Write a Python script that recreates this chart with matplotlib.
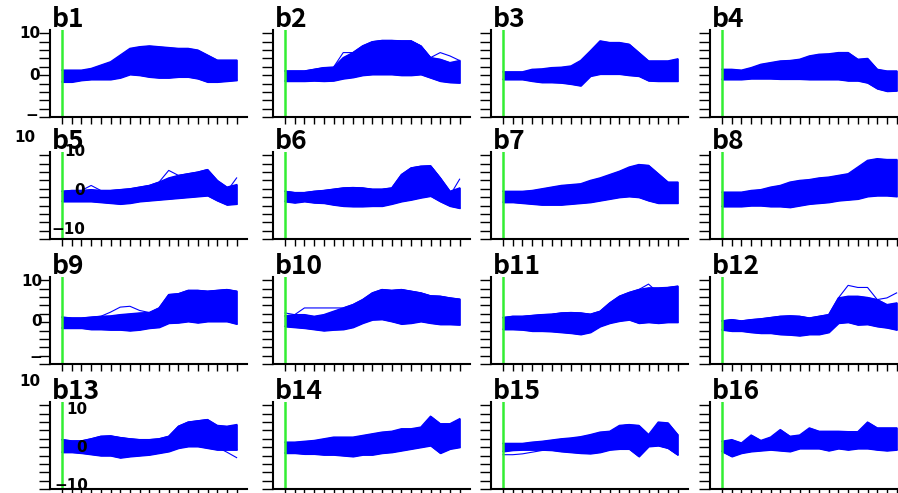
import numpy as np
import matplotlib.pyplot as plt

# taille de la figure en pixels
W, H = 898, 493
steps = np.arange(19)

titres = ['b%d' % i for i in range(1, 17)]

# enveloppes haute / basse des courbes de chaque panneau
haut_b1 = [1.2, 1.2, 1.2, 1.6, 2.4, 3.2, 4.8, 6.4, 6.8, 7.0, 6.8, 6.6, 6.4, 6.4, 6.0, 4.8, 3.6, 3.6, 3.6]
bas_b1 = [-1.6, -1.6, -1.2, -1.0, -1.0, -1.0, -0.6, 0.2, 0.0, -0.4, -0.6, -0.6, -0.4, -0.4, -0.8, -1.6, -1.6, -1.4, -1.2]
haut_b2 = [1.0, 1.0, 1.0, 1.4, 1.8, 1.9, 4.2, 5.4, 7.0, 8.0, 8.3, 8.3, 8.2, 8.2, 7.0, 4.2, 3.8, 3.0, 3.5]
bas_b2 = [-1.4, -1.4, -1.4, -1.3, -1.4, -1.3, -0.8, -0.5, 0.0, 0.2, 0.2, 0.2, 0.0, 0.0, 0.2, -0.6, -1.4, -1.7, -1.8]
haut_b3 = [0.8, 0.8, 0.8, 1.4, 1.5, 1.8, 1.9, 2.2, 3.5, 5.8, 8.2, 7.8, 7.8, 7.4, 5.4, 3.4, 3.4, 3.4, 3.9]
bas_b3 = [-1.0, -1.0, -1.0, -1.4, -1.7, -1.7, -1.8, -2.1, -2.5, -0.2, 0.3, 0.3, 0.3, 0.0, -0.2, -1.3, -1.4, -1.4, -1.4]
haut_b4 = [1.4, 1.4, 1.2, 1.8, 2.6, 3.0, 3.4, 3.5, 3.8, 4.6, 5.0, 5.1, 5.4, 5.4, 3.8, 4.0, 1.4, 1.0, 1.0]
bas_b4 = [-1.0, -1.0, -1.0, -0.8, -0.8, -0.8, -0.9, -0.9, -0.9, -1.0, -1.0, -1.0, -1.0, -1.3, -1.3, -1.8, -3.2, -3.8, -3.7]
haut_b5 = [1.4, 1.6, 1.6, 1.8, 1.6, 1.6, 1.8, 2.0, 2.4, 2.8, 3.6, 4.6, 5.2, 5.6, 6.0, 6.6, 4.0, 2.4, 3.0]
bas_b5 = [-1.0, -1.0, -1.0, -1.0, -1.2, -1.4, -1.6, -1.4, -1.0, -0.8, -0.6, -0.4, -0.2, 0.0, 0.2, 0.4, -0.8, -1.8, -1.6]
haut_b6 = [1.4, 1.1, 1.1, 1.4, 1.6, 1.9, 2.2, 2.3, 2.2, 1.9, 1.9, 2.2, 5.4, 7.0, 7.4, 7.5, 4.6, 1.4, 2.2]
bas_b6 = [-1.0, -1.3, -1.0, -1.3, -1.4, -1.8, -2.1, -2.2, -2.2, -2.1, -2.1, -1.6, -1.0, -0.6, -0.1, 0.3, -1.0, -2.1, -2.6]
haut_b7 = [1.4, 1.4, 1.4, 1.6, 2.0, 2.4, 2.8, 3.0, 3.2, 4.0, 4.6, 5.4, 6.2, 7.2, 7.8, 7.6, 5.6, 3.6, 3.6]
bas_b7 = [-1.2, -1.2, -1.4, -1.6, -1.8, -1.8, -1.8, -1.6, -1.4, -1.2, -0.8, -0.4, 0.0, 0.2, 0.0, -0.8, -1.4, -1.4, -1.4]
haut_b8 = [1.2, 1.2, 1.2, 1.6, 1.8, 2.4, 2.8, 3.6, 4.0, 4.2, 4.6, 4.8, 5.2, 5.6, 7.2, 8.8, 9.2, 9.0, 9.0]
bas_b8 = [-2.2, -2.2, -2.2, -2.0, -2.0, -2.2, -2.2, -2.4, -2.0, -1.6, -1.4, -1.2, -0.8, -0.6, -0.4, 0.2, 0.4, 0.4, 0.2]
haut_b9 = [1.2, 1.0, 1.0, 1.2, 1.4, 1.5, 1.8, 2.0, 2.2, 2.3, 3.4, 6.6, 6.8, 7.6, 7.6, 7.4, 7.6, 7.8, 7.4]
bas_b9 = [-1.4, -1.4, -1.4, -1.7, -1.7, -1.8, -1.8, -2.0, -1.8, -1.4, -1.2, -0.2, -0.1, 0.2, -0.1, 0.2, 0.2, 0.2, -0.4]
haut_b10 = [1.5, 1.8, 1.8, 1.4, 1.8, 2.6, 3.4, 4.2, 5.4, 7.0, 7.8, 7.6, 7.8, 7.4, 7.0, 6.3, 6.2, 5.8, 5.5]
bas_b10 = [-1.0, -1.2, -1.4, -1.7, -2.0, -1.8, -1.7, -1.2, -0.2, 0.6, 0.7, 0.2, -0.4, -0.2, 0.2, -0.2, -0.5, -0.5, -0.6]
haut_b11 = [1.1, 1.4, 1.4, 1.6, 1.8, 1.9, 2.2, 2.3, 2.2, 1.9, 2.6, 4.6, 6.2, 7.1, 7.8, 8.2, 8.2, 8.3, 8.6]
bas_b11 = [-1.7, -1.7, -1.8, -2.1, -2.1, -2.2, -2.4, -2.6, -2.9, -2.4, -1.0, -0.2, 0.3, 0.6, -0.2, 0.0, -0.2, 0.0, 0.0]
haut_b12 = [0.3, 0.6, 0.3, 0.6, 0.8, 1.1, 1.4, 1.5, 1.4, 1.0, 1.4, 1.8, 5.8, 6.2, 6.2, 5.9, 5.4, 4.2, 4.6]
bas_b12 = [-1.8, -2.1, -2.1, -2.4, -2.6, -2.6, -2.9, -3.0, -3.2, -2.9, -2.9, -2.4, -0.2, 0.0, -0.6, -0.5, -1.0, -1.3, -1.8]
haut_b13 = [1.8, 1.5, 1.5, 2.0, 2.6, 2.7, 2.3, 2.0, 1.8, 1.8, 2.0, 2.6, 5.0, 6.0, 6.3, 6.6, 5.2, 5.0, 5.4]
bas_b13 = [-1.2, -1.2, -1.4, -1.7, -2.0, -2.0, -2.5, -2.2, -2.0, -1.8, -1.4, -1.0, -0.2, 0.2, 0.2, -0.2, -0.6, -0.6, -0.6]
haut_b14 = [1.2, 1.2, 1.4, 1.6, 2.0, 2.4, 2.4, 2.4, 2.8, 3.2, 3.6, 3.8, 4.4, 4.4, 4.8, 7.4, 5.6, 5.6, 6.8]
bas_b14 = [-1.4, -1.4, -1.6, -1.6, -1.8, -1.8, -2.0, -2.2, -1.8, -1.8, -1.4, -1.2, -0.8, -0.4, 0.0, 0.4, -1.4, -0.4, 0.0]
haut_b15 = [0.9, 0.9, 0.9, 1.2, 1.4, 1.7, 2.0, 2.2, 2.5, 3.0, 3.6, 3.8, 5.2, 5.4, 5.2, 3.0, 6.0, 5.8, 3.0]
bas_b15 = [-1.0, -0.7, -0.6, -0.6, -0.6, -0.7, -1.0, -1.2, -1.4, -1.5, -1.2, -0.6, -0.4, -0.4, -2.2, 0.2, 0.4, -0.2, -1.8]
haut_b16 = [1.4, 1.8, 1.0, 2.9, 1.6, 2.4, 4.2, 2.6, 2.9, 4.6, 3.8, 3.8, 3.8, 3.7, 3.7, 6.0, 4.6, 4.6, 4.6]
bas_b16 = [-1.0, -2.2, -1.4, -1.0, -0.8, -0.6, -0.8, -1.0, -0.3, -0.3, -0.3, -0.8, -0.3, -0.6, -0.3, -0.3, -0.6, -0.8, -0.6]

# quelques courbes isolees qui sortent du faisceau
isole_b2 = [1.0, 1.0, 1.0, 1.4, 1.8, 1.9, 5.4, 5.4, 7.0, 8.0, 8.3, 8.3, 8.2, 8.2, 7.0, 4.2, 5.4, 4.6, 3.5]
isole_b5 = [1.4, 1.6, 1.6, 2.8, 1.6, 1.6, 1.8, 2.0, 2.4, 2.8, 3.6, 6.4, 5.2, 5.6, 6.0, 6.6, 2.0, 1.4, 4.6]
isole_b6 = [1.4, 1.1, 1.1, 1.4, 1.6, 1.9, 2.2, 2.3, 2.2, 1.9, 1.9, 2.2, 5.4, 7.0, 7.4, 7.5, 4.6, 0.4, 4.3]
isole_b9 = [1.2, 1.0, 1.0, 1.2, 1.4, 2.4, 3.6, 3.8, 2.8, 2.3, 3.4, 6.6, 6.8, 7.6, 7.6, 7.4, 7.6, 7.8, 7.4]
isole_b10 = [2.2, 1.8, 3.4, 3.4, 3.4, 3.4, 3.4, 4.2, 5.4, 7.0, 7.8, 7.6, 7.8, 7.4, 7.0, 6.3, 6.2, 5.8, 5.5]
isole_b11 = [1.1, 1.4, 1.4, 1.6, 1.8, 1.9, 2.2, 2.3, 2.2, 1.9, 2.6, 4.6, 6.2, 7.1, 7.8, 9.1, 7.0, 8.3, 8.6]
isole_b12 = [0.3, 0.6, 0.3, 0.6, 0.8, 1.1, 1.4, 1.5, 1.4, 1.0, 1.4, 1.8, 5.8, 8.8, 8.3, 8.3, 5.4, 5.8, 7.0]
isole_b13 = [1.8, 1.5, 1.5, 2.0, 2.6, 2.7, 2.3, 2.0, 1.8, 1.8, 2.0, 2.6, 5.0, 6.0, 6.3, 6.6, 0.0, -1.2, -2.5]
isole_b15 = [-1.8, -1.8, -1.6, -1.2, -0.8, -0.6, -0.2, 0.4, 1.0, 1.8, 2.4, 3.2, 5.0, 5.4, -2.2, 0.2, 0.4, -0.2, -1.8]

hauts = [haut_b1, haut_b2, haut_b3, haut_b4, haut_b5, haut_b6, haut_b7, haut_b8,
         haut_b9, haut_b10, haut_b11, haut_b12, haut_b13, haut_b14, haut_b15, haut_b16]
bas = [bas_b1, bas_b2, bas_b3, bas_b4, bas_b5, bas_b6, bas_b7, bas_b8,
       bas_b9, bas_b10, bas_b11, bas_b12, bas_b13, bas_b14, bas_b15, bas_b16]
isoles = {1: isole_b2, 4: isole_b5, 5: isole_b6, 8: isole_b9, 9: isole_b10,
          10: isole_b11, 11: isole_b12, 12: isole_b13, 14: isole_b15}

# position des axes en pixels (bord gauche, bord bas)
gauches = [50, 273, 491, 710]
basses = [117, 239, 364, 489]
larg, haut = 197, 87

bleu = '#0000ff'
vert = '#33ee33'

fig = plt.figure(figsize=(W / 100, H / 100), dpi=100)


def px(x, y):
    return x / W, 1 - y / H


for k in range(16):
    r, c = divmod(k, 4)
    x0, y0 = px(gauches[c], basses[r])
    ax = fig.add_axes([x0, y0, larg / W, haut / H])
    ax.fill_between(steps, bas[k], hauts[k], color=bleu, lw=1)
    ax.plot(steps, hauts[k], color=bleu, lw=1)
    ax.plot(steps, bas[k], color=bleu, lw=1)
    if k in isoles:
        ax.plot(steps, isoles[k], color=bleu, lw=0.8)
    ax.axvline(0, color=vert, lw=1.8)
    ax.set_xlim(-1.24, 19.07)
    ax.set_ylim(-10, 10.8)
    ax.set_xticks(steps)
    ax.set_yticks(np.arange(-10, 11, 2))
    ax.set_xticklabels([])
    ax.set_yticklabels([])
    ax.tick_params(axis='y', length=8, width=1, direction='out')
    ax.tick_params(axis='x', length=5, width=1, direction='out')
    for s in ['top', 'right']:
        ax.spines[s].set_visible(False)
    for s in ['left', 'bottom']:
        ax.spines[s].set_linewidth(1.5)
    tx, ty = px(gauches[c] + 2, basses[r] - haut - 3)
    fig.text(tx, ty, titres[k], fontsize=19, fontweight='bold',
             family=['Noto Sans CJK JP', 'DejaVu Sans'], va='baseline', ha='left')

# etiquettes de l'axe y de la premiere colonne
etiquettes = [
    ('10', 40, 33), ('0', 40, 75), ('\u2212', 38, 115), ('10', 35, 137),
    ('10', 85, 151), ('0', 85, 191), ('\u221210', 85, 229),
    ('10', 42, 282), ('0', 42, 321), ('\u2212', 42, 358), ('10', 40, 381),
    ('10', 87, 410), ('0', 87, 447), ('\u221210', 88, 485),
]
for txt, x, y in etiquettes:
    tx, ty = px(x, y)
    fig.text(tx, ty, txt, fontsize=11, fontweight='bold', ha='right', va='center')

fig.savefig('out.png', dpi=100)
